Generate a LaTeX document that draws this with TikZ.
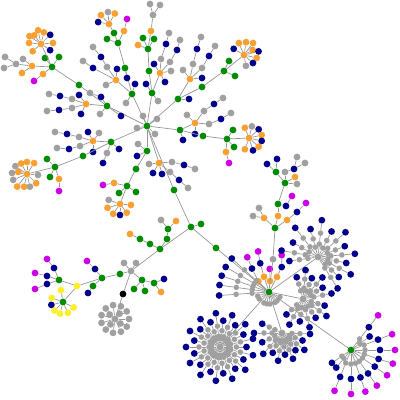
\documentclass[tikz,border=0pt]{standalone}
\usepackage{tikz}

\definecolor{cgreen}{RGB}{0,140,0}
\definecolor{cnavy}{RGB}{0,0,140}
\definecolor{cgray}{RGB}{160,160,160}
\definecolor{corange}{RGB}{250,160,50}
\definecolor{cpurple}{RGB}{204,0,230}
\definecolor{cyellow}{RGB}{255,238,40}
\definecolor{cline}{RGB}{150,150,150}

\tikzset{
  dot/.style={circle, inner sep=0pt, minimum size=6.8pt},
  smalldot/.style={dot, minimum size=5.6pt},
  link/.style={draw=cline, line width=0.7pt}
}

% child at a fixed spot, joined to its parent
\newcommand{\addleaf}[4]{%
  \node[dot, fill=#3] (#2) at (#4) {};
  \draw[link] (#1) -- (#2);}
% child at angle/radius from a centre, joined to its parent
\newcommand{\addtwig}[6]{%
  \node[dot, fill=#6] (#3) at ([shift={(#4:#5pt)}]#1.center) {};
  \draw[link] (#2) -- (#3);}
% same, small gray node inside a burst
\newcommand{\addspoke}[5]{%
  \node[smalldot, fill=cgray] (#3) at ([shift={(#4:#5pt)}]#1.center) {};
  \draw[link] (#2) -- (#3);}
% starburst: gray, gray, then a coloured tip on every spoke
\newcommand{\addburst}[6]{%
  \foreach \ang [count=\i] in {#2} {
    \pgfmathsetmacro{\k}{mod(\i,2)==0 ? 1 : 0.78}
    \addspoke{#1}{#1}{#1a\i}{\ang}{#3*\k}
    \addspoke{#1}{#1a\i}{#1b\i}{\ang}{#4*\k}
    \addtwig{#1}{#1b\i}{#1c\i}{\ang}{#5*\k}{#6}
  }}

\begin{document}
\begin{tikzpicture}[x=1pt,y=-1pt]
    \useasboundingbox (0,0) rectangle (400,400);

    % main hub
    \node[dot, fill=cgreen] (A) at (147,126) {};
    \addleaf{A}{A1}{cgray}{137,128}
    \addleaf{A}{A2}{cgray}{143,116}
    \addleaf{A}{A3}{cgray}{155,134}
    \addleaf{A}{A4}{cgray}{157,119}

    % up-left towards the orange clusters
    \addleaf{A}{L1}{cgreen}{107,106}
    \addleaf{L1}{L1b}{cnavy}{121,116}
    \addleaf{L1}{L1c}{cnavy}{101,97}
    \addleaf{L1c}{L1d}{cgray}{90,93}
    \addleaf{L1}{L1e}{cgray}{100,114}
    \addleaf{L1}{L2}{cgreen}{79,85}
    \addleaf{L2}{G1}{cgreen}{52,67}
    \addleaf{G1}{G1a}{cgreen}{45,58}
    \addleaf{G1}{G1b}{cgreen}{59,57}
    \addleaf{G1}{G1c}{corange}{43,74}
    \addleaf{G1c}{G1d}{cpurple}{34,81}
    \addleaf{G1}{O1}{corange}{41,44}
    \foreach \ang/\rad/\col [count=\i] in {146/14/corange,128/11/corange,102/14/corange,76/12/corange,45/13/cnavy,5/12/corange,-34/11/cnavy,-139/11/corange,175/12/corange}
        {\addtwig{O1}{O1}{O1s\i}{\ang}{\rad}{\col}}
    \addleaf{G1}{O2}{corange}{32,66}
    \addleaf{O2}{O2a}{cgray}{16,64}
    \addleaf{O2a}{O2b}{cgray}{5,57}
    \addleaf{O2a}{O2c}{cgray}{4,68}
    \addleaf{O2}{O2d}{cgray}{23,59}
    \addleaf{O2}{O2e}{corange}{22,73}
    \addleaf{L1}{O3}{corange}{86,104}
    \addleaf{O3}{O3a}{cgray}{72,99}
    \addleaf{O3a}{O3b}{cnavy}{60,96}
    \addleaf{O3b}{O3c}{cgray}{49,94}
    \addleaf{O3}{O3d}{cgray}{72,108}
    \addleaf{O3d}{O3e}{cnavy}{59,110}
    \addleaf{O3e}{O3f}{cgray}{47,111}
    \addleaf{O3}{O3g}{cnavy}{81,114}
    \addleaf{O3}{O3h}{cnavy}{79,95}

    % up, slightly left
    \addleaf{A}{U1}{cgreen}{132,94}
    \addleaf{U1}{U1a}{cgray}{126,103}
    \addleaf{U1}{U1b}{cnavy}{135,84}
    \addleaf{U1}{O13}{corange}{116,80}
    \addleaf{O13}{O13a}{cgray}{107,67}
    \addleaf{O13a}{O13b}{cnavy}{101,57}
    \addleaf{O13b}{O13c}{cgray}{93,47}
    \addleaf{O13}{O13d}{cnavy}{93,68}
    \addleaf{O13d}{O13e}{cgray}{83,61}
    \addleaf{O13}{O13f}{cnavy}{117,69}
    \addleaf{O13}{O13g}{cgray}{106,85}
    \addleaf{U1}{U2}{cgreen}{125,68}
    \addleaf{U2}{U2a}{cnavy}{127,78}
    \addleaf{U2}{U3}{cgreen}{118,43}
    \addleaf{U3}{U3a}{cgreen}{107,39}
    \addleaf{U3}{U3b}{corange}{124,31}
    \addleaf{U3b}{U3c}{cpurple}{127,19}
    \addleaf{U3}{U4}{cgreen}{114,33}
    \addleaf{U4}{O14}{corange}{109,24}
    \foreach \ang/\rad/\col [count=\i] in {132/12/corange,95/12/cgray,61/12/corange,170/11/cnavy}
        {\addtwig{O14}{O14}{O14s\i}{\ang}{\rad}{\col}}

    % straight up
    \addleaf{A}{T1}{cgreen}{152,93}
    \addleaf{T1}{T1a}{cgray}{158,101}
    \addleaf{T1}{T1b}{cnavy}{146,84}
    \addleaf{T1}{T2}{cgreen}{149,71}
    \addleaf{T2}{T3}{cgreen}{148,49}
    \addleaf{T3}{T3a}{cgreen}{143,38}
    \addleaf{T3}{T3b}{cgreen}{154,39}
    \addleaf{T3}{T3c}{corange}{138,45}
    \addleaf{T3}{T4}{corange}{151,31}
    \addleaf{T4}{T5}{cgray}{153,15}
    \addleaf{T5}{T6}{cgray}{150,4}
    \addleaf{T5}{T7}{cgray}{160,5}
    \addleaf{T1}{O4}{corange}{160,73}
    \addleaf{O4}{O4a}{cgray}{161,59}
    \addleaf{O4a}{O4b}{cnavy}{166,44}
    \addleaf{O4b}{O4c}{cgray}{169,33}
    \addleaf{O4}{O4d}{cgray}{170,62}
    \addleaf{O4d}{O4e}{cnavy}{177,50}
    \addleaf{O4e}{O4f}{cgray}{180,40}
    \addleaf{O4}{O4g}{cnavy}{154,64}
    \addleaf{O4}{O4h}{cnavy}{165,82}
    \addleaf{O4}{O4i}{cgray}{171,71}

    % up-right
    \addleaf{A}{R1}{cgreen}{178,99}
    \addleaf{R1}{R1a}{cnavy}{189,99}
    \addleaf{R1}{O5}{corange}{190,79}
    \addleaf{O5}{O5a}{cgray}{193,64}
    \addleaf{O5a}{O5b}{cnavy}{197,49}
    \addleaf{O5b}{O5c}{cgray}{201,37}
    \addleaf{O5}{O5d}{cgray}{202,68}
    \addleaf{O5d}{O5e}{cnavy}{209,56}
    \addleaf{O5e}{O5f}{cgray}{215,46}
    \addleaf{O5}{O5g}{cnavy}{202,78}
    \addleaf{O5}{O5h}{cgray}{183,70}
    \addleaf{R1}{R2}{cgreen}{202,87}
    \addleaf{R2}{R3}{cgreen}{224,71}
    \addleaf{R3}{R3a}{cgreen}{229,61}
    \addleaf{R3}{R3b}{cgreen}{235,76}
    \addleaf{R3}{O6}{corange}{244,55}
    \foreach \ang/\rad/\col [count=\i] in {113/13/corange,81/13/corange,53/15/corange,30/10/corange,14/15/cnavy,-13/13/corange,-42/12/cnavy,-80/11/cgray,149/12/cnavy}
        {\addtwig{O6}{O6}{O6s\i}{\ang}{\rad}{\col}}

    % right
    \addleaf{A}{M1}{cgreen}{180,130}
    \addleaf{M1}{M1a}{cnavy}{183,140}
    \addleaf{M1}{O8}{corange}{195,123}
    \addleaf{O8}{O8a}{cgray}{209,124}
    \addleaf{O8a}{O8b}{cnavy}{221,119}
    \addleaf{O8b}{O8c}{cgray}{231,113}
    \addleaf{O8}{O8d}{cgray}{204,111}
    \addleaf{O8d}{O8e}{cnavy}{214,104}
    \addleaf{O8e}{O8f}{cgray}{223,98}
    \addleaf{O8}{O8g}{cgray}{187,115}
    \addleaf{O8}{O8h}{cnavy}{195,134}
    \addleaf{M1}{M2}{cgreen}{203,136}
    \addleaf{M2}{M3}{cgreen}{227,139}
    \addleaf{M3}{M3a}{cgreen}{233,130}
    \addleaf{M3}{M3b}{cgreen}{234,147}
    \addleaf{M3}{M3c}{corange}{226,152}
    \addleaf{M3c}{M3d}{cpurple}{229,163}
    \addleaf{M3}{O7}{corange}{249,138}
    \foreach \ang/\rad/\col [count=\i] in {112/11/corange,76/12/cgray,42/13/cnavy,13/13/corange,-13/13/cnavy,-42/13/corange,-72/13/cnavy,-110/12/corange}
        {\addtwig{O7}{O7}{O7s\i}{\ang}{\rad}{\col}}

    % left
    \addleaf{A}{W1}{cgreen}{111,142}
    \addleaf{W1}{W1a}{cnavy}{119,149}
    \addleaf{W1}{W1b}{cgray}{107,153}
    \addleaf{W1b}{W1c}{cnavy}{103,163}
    \addleaf{W1}{O9}{corange}{93,141}
    \addleaf{O9}{O9a}{cgray}{79,137}
    \addleaf{O9a}{O9b}{cnavy}{67,134}
    \addleaf{O9b}{O9c}{cgray}{55,132}
    \addleaf{O9}{O9d}{cgray}{80,146}
    \addleaf{O9d}{O9e}{cnavy}{69,149}
    \addleaf{O9e}{O9f}{cgray}{57,148}
    \addleaf{O9}{O9g}{cnavy}{88,132}
    \addleaf{O9}{O9h}{cgray}{99,133}
    \addleaf{O9}{O9i}{cnavy}{93,152}
    \addleaf{W1}{W2}{cgreen}{83,156}
    \addleaf{W2}{W3}{cgreen}{55,167}
    \addleaf{W3}{W3a}{cgreen}{47,159}
    \addleaf{W3}{W3b}{cgreen}{50,177}
    \addleaf{W3}{W3c}{corange}{59,179}
    \addleaf{W3c}{W3d}{cpurple}{59,191}
    \addleaf{W3}{O10}{corange}{27,174}
    \foreach \ang/\rad/\col [count=\i] in {146/14/cgray,119/12/corange,90/12/corange,57/13/corange,-5/11/cgray,-45/13/corange,-77/13/cgray,-103/13/corange,-128/16/corange,-157/15/cgray,176/15/cgray,167/9/corange}
        {\addtwig{O10}{O10}{O10s\i}{\ang}{\rad}{\col}}

    % down-left
    \addleaf{A}{S1}{cgreen}{147,151}
    \addleaf{S1}{S1a}{cgray}{138,144}
    \addleaf{S1}{S1b}{cnavy}{137,156}
    \addleaf{S1}{S2}{cgreen}{136,169}
    \addleaf{S2}{S3}{cgreen}{127,186}
    \addleaf{S3}{S3a}{cgreen}{119,193}
    \addleaf{S3}{S3b}{cgreen}{136,192}
    \addleaf{S3}{S3c}{corange}{114,183}
    \addleaf{S3c}{S3d}{cpurple}{103,185}
    \addleaf{S3}{O11}{corange}{120,204}
    \foreach \ang/\rad/\col [count=\i] in {160/12/cgray,197/13/corange,235/12/corange,270/11/cnavy,-52/11/corange,-5/11/corange}
        {\addtwig{O11}{O11}{O11s\i}{\ang}{\rad}{\col}}
    \addleaf{A}{O12}{corange}{159,163}
    \addleaf{O12}{O12a}{cgray}{149,164}
    \addleaf{O12}{O12b}{cnavy}{153,173}
    \addleaf{O12}{O12c}{cnavy}{162,174}
    \addleaf{O12}{O12d}{cgray}{172,162}
    \addleaf{O12d}{O12e}{cnavy}{184,165}
    \addleaf{O12e}{O12f}{cgray}{195,169}
    \addleaf{O12}{O12g}{cgray}{170,172}
    \addleaf{O12g}{O12h}{cnavy}{179,180}
    \addleaf{O12h}{O12i}{cgray}{188,188}

    % trunk down to B
    \addleaf{A}{Q1}{cgreen}{174,190}
    \addleaf{Q1}{B}{cgreen}{191,227}
    \addleaf{B}{B1}{cgreen}{201,224}
    \addleaf{B}{P1}{cgreen}{160,249}
    \addleaf{P1}{P2}{cgreen}{167,239}
    \addleaf{P2}{P3}{cgreen}{168,229}
    \addleaf{P3}{P3a}{cgray}{161,220}
    \addleaf{P3}{P3b}{corange}{176,221}
    \addleaf{P1}{P4}{cgreen}{150,244}
    \addleaf{P4}{P5}{cgreen}{140,239}
    \addleaf{P5}{P6}{corange}{130,234}

    % lower left group
    \addleaf{P1}{J}{cgray}{131,271}
    \addleaf{J}{J1}{cgray}{124,263}
    \addleaf{J}{J2}{cgray}{136,263}
    \addleaf{J}{J3}{cgreen}{142,280}
    \addleaf{J3}{J4}{cgreen}{154,283}
    \addleaf{J4}{J5}{cnavy}{164,279}
    \addleaf{J4}{J6}{corange}{161,292}
    \addleaf{J3}{J7}{cgreen}{134,289}
    \addleaf{J3}{J8}{cgreen}{145,291}
    \addleaf{J}{HT}{black}{123,294}
    \addleaf{HT}{K}{cgray}{115,319}
    \foreach \ang [count=\i] in {0,33,65,98,131,164,196,229,262,295,327}
        {\addtwig{K}{K}{Ko\i}{\ang}{14}{cgray}}
    \foreach \ang [count=\i] in {50,140,230,320}
        {\addtwig{K}{K}{Ki\i}{\ang}{7}{cgray}}
    \addleaf{J}{V1}{cgreen}{120,274}
    \addleaf{V1}{V2}{cgreen}{102,278}
    \addleaf{V2}{V3}{cgreen}{93,286}
    \addleaf{V3}{V4}{cnavy}{88,293}
    \addleaf{V2}{V5}{cnavy}{95,269}
    \addleaf{V5}{V6}{cpurple}{87,261}
    \addleaf{V2}{YY}{cyellow}{77,286}
    \addleaf{YY}{X}{cgreen}{59,280}
    \addleaf{X}{X1}{cnavy}{47,276}
    \addleaf{X1}{X2}{cpurple}{35,273}
    \addleaf{X}{X3}{cnavy}{54,268}
    \addleaf{X3}{X4}{cpurple}{47,259}
    \addleaf{X}{X5}{cnavy}{47,284}
    \addleaf{X5}{X6}{cpurple}{35,289}
    \addleaf{YY}{Y}{cgreen}{63,302}
    \foreach \ang/\col [count=\i] in {100/cyellow,160/cyellow,194/cnavy,225/cyellow,256/cyellow,294/cyellow,333/cyellow}
        {\addtwig{Y}{Y}{Ys\i}{\ang}{12}{\col}}

    % second hub C and its bursts
    \addleaf{B}{Q2}{cgreen}{216,248}
    \addleaf{Q2}{C}{cgreen}{269,292}
    \addtwig{C}{C}{Co1}{135}{15}{corange}
    \addtwig{C}{Co1}{Cb1}{126}{29}{cnavy}
    \addtwig{C}{Cb1}{Cp1}{122}{41}{cpurple}
    \addtwig{C}{C}{Co2}{108}{16}{corange}
    \addtwig{C}{Co2}{Cb2}{107}{30}{cnavy}
    \addtwig{C}{Cb2}{Cp2}{105}{42}{cpurple}
    \addtwig{C}{C}{Co3}{85}{11}{corange}
    \addtwig{C}{Co3}{Cp3}{88}{23}{cpurple}
    \addtwig{C}{C}{Co4}{62}{17}{corange}
    \addtwig{C}{Co4}{Cb4}{63}{28}{cnavy}
    \addtwig{C}{Cb4}{Cp4}{71}{39}{cpurple}
    \addtwig{C}{C}{Cg}{83}{33}{cgray}
    \foreach \ang [count=\i] in {138,150,161,172,184}
        {\addspoke{C}{C}{Cfa\i}{\ang}{17}
         \addspoke{C}{Cfa\i}{Cfb\i}{\ang}{33}
         \addtwig{C}{Cfb\i}{Cfc\i}{\ang}{50}{cnavy}}
    \foreach \ang [count=\i] in {200,215,245,260,275,300,312,335}
        {\addspoke{C}{C}{Cr\i}{\ang}{12}}

    % branch above C
    \addleaf{Cg}{N1}{cgreen}{275,228}
    \addleaf{N1}{N2}{corange}{264,218}
    \addleaf{N2}{N3}{cgray}{259,208}
    \addleaf{N2}{N4}{cgray}{253,216}
    \addleaf{N1}{N5}{corange}{278,216}
    \addleaf{N5}{N6}{cgreen}{278,204}
    \addleaf{N6}{N7}{cnavy}{286,206}
    \addleaf{N7}{N8}{cpurple}{292,196}
    \addleaf{N1}{N9}{corange}{287,220}
    \addleaf{N9}{N10}{cnavy}{297,212}
    \addleaf{N10}{N11}{cpurple}{306,203}
    \addleaf{N6}{N12}{cgreen}{285,183}
    \addleaf{N12}{N13}{cgreen}{276,172}
    \addleaf{N13}{N14}{cnavy}{267,164}
    \addleaf{N13}{N15}{cnavy}{277,159}
    \addleaf{N12}{N16}{cgray}{285,172}
    \addleaf{N16}{N17}{cnavy}{294,169}
    \addleaf{N17}{N18}{cgray}{297,157}
    \addleaf{N17}{N19}{cgray}{305,163}
    \addleaf{N12}{N20}{corange}{295,177}
    \addleaf{N12}{N21}{cgray}{297,184}

    \addleaf{C}{D}{cgray}{318,257}
    \addleaf{C}{E}{cgray}{303,299}
    \addleaf{C}{F}{cgray}{220,347}
    \addleaf{C}{G}{cgray}{282,333}
    \addleaf{C}{H}{cgreen}{351,350}
    \addburst{D}{188,170,150,128,105,84,62,42,22,5,-12,-28,-44,-58}{13}{24}{37}{cnavy}
    \addburst{E}{106,85,67,48,30,11,-17,-36,-56,-77,-98,-118,-137}{11}{20}{29}{cnavy}
    \addburst{F}{0,14,28,42,55,69,83,97,111,125,138,152,166,180,194,208,222,235,249,263,277,291,305,318,332,346}{11}{21}{34}{cnavy}
    \addburst{G}{155,180,205,228,245,262,278,293,308,323,340,358}{10}{18}{28}{cnavy}
    \foreach \ang [count=\i] in {52,21,0,-18,-35,-54,-71,-90,-112}
        {\addspoke{H}{H}{Ha\i}{\ang}{14}
         \addtwig{H}{Ha\i}{Hb\i}{\ang}{29}{cnavy}
         \addtwig{H}{Hb\i}{Hc\i}{\ang}{44}{cpurple}}
    \foreach \ang [count=\i] in {36,-146,-130}
        {\addspoke{H}{H}{Hd\i}{\ang}{11}
         \addtwig{H}{Hd\i}{He\i}{\ang}{23}{cnavy}}
\end{tikzpicture}
\end{document}
